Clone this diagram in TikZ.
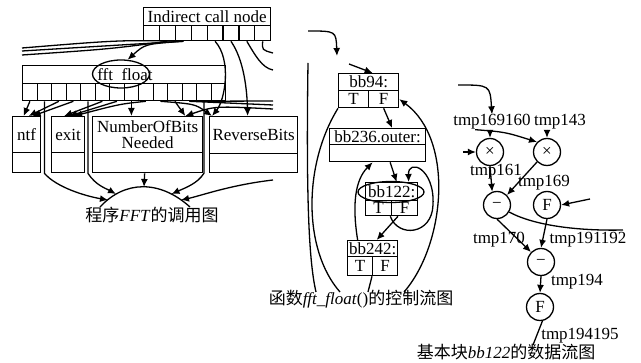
\documentclass[tikz,border=0pt]{standalone}
\usepackage{fontspec}
\setmainfont{Liberation Serif}
\newfontfamily\cjk{Noto Sans CJK SC}
\usetikzlibrary{arrows.meta,shapes.geometric,backgrounds}
\begin{document}
\begin{tikzpicture}[x=1pt,y=-1pt,font=\fontsize{17}{15}\selectfont,
  bx/.style={draw,line width=1.3pt,rectangle,inner sep=0pt,anchor=north west},
  wbx/.style={bx,fill=white},
  ln/.style={line width=1.3pt},
  ar/.style={ln,-{Latex[length=8pt,width=7pt]}},
  opc/.style={draw,circle,line width=1.3pt,minimum size=27pt,inner sep=0pt,fill=white},
  lbl/.style={inner sep=0pt},
  captxt/.style={inner sep=0pt}]
\useasboundingbox (0,0) rectangle (641,363);

% ---------------- call graph ----------------
\node[bx,minimum width=127pt,minimum height=18pt] (ind) at (143,7) {Indirect call node};
\foreach \i in {0,...,7}
  \node[bx,minimum width=15.875pt,minimum height=15pt] (ic\i) at ({143+\i*15.875},25) {};
\node[bx,minimum width=203pt,minimum height=18pt] (fft) at (22,65) {};
\foreach \i in {0,...,13}
  \node[bx,minimum width=14.5pt,minimum height=17pt] (fc\i) at ({22+\i*14.5},83) {};
\node[draw,ellipse,line width=1.3pt,minimum width=57pt,minimum height=28pt,inner sep=0pt] (fftE) at (121,74) {};
\node[lbl] (fftT) at (125,75) {fft\ \ float};

\node[bx,minimum width=28pt,minimum height=36pt] (ntf) at (12,116) {ntf};
\node[bx,minimum width=28pt,minimum height=20pt] (ntfb) at (12,152) {};
\node[bx,minimum width=33pt,minimum height=36pt] (ex) at (51,116) {exit};
\node[bx,minimum width=33pt,minimum height=20pt] (exb) at (51,152) {};
\node[bx,minimum width=110pt,minimum height=36pt,align=center,font=\fontsize{17}{16}\selectfont] (nob) at (92,116) {NumberOfBits\\Needed};
\node[bx,minimum width=110pt,minimum height=20pt] (nobb) at (92,152) {};
\node[bx,minimum width=88pt,minimum height=37pt] (rev) at (209,116) {ReverseBits};
\node[bx,minimum width=88pt,minimum height=19pt] (revb) at (209,153) {};

\node[captxt] (cap1) at (152,215) {{\cjk 程序}\textit{FFT}{\cjk 的调用图}};

% ---------------- control flow graph ----------------
\node[wbx,minimum width=60pt,minimum height=17pt] (bb94) at (338,73) {bb94:};
\node[wbx,minimum width=30pt,minimum height=17pt] (bb94T) at (338,90) {T};
\node[wbx,minimum width=30pt,minimum height=17pt] (bb94F) at (368,90) {F};
\node[wbx,minimum width=96pt,minimum height=16pt] (bb236) at (329,128) {bb236.outer:};
\node[wbx,minimum width=96pt,minimum height=17pt] (bb236b) at (329,144) {};
\node[wbx,minimum width=52pt,minimum height=18pt] (bb122) at (365,182) {bb122:};
\node[wbx,minimum width=26pt,minimum height=15pt] (bb122T) at (365,200) {T};
\node[wbx,minimum width=26pt,minimum height=15pt] (bb122F) at (391,200) {F};
\node[draw,ellipse,line width=1.3pt,minimum width=66pt,minimum height=21pt,inner sep=0pt] (bbE) at (391,192) {};
\node[wbx,minimum width=50pt,minimum height=16pt] (bb242) at (347,240) {bb242:};
\node[wbx,minimum width=25pt,minimum height=19pt] (bb242T) at (347,256) {T};
\node[wbx,minimum width=25pt,minimum height=19pt] (bb242F) at (372,256) {F};

\node[captxt] (cap2) at (361,299) {{\cjk 函数}\textit{fft\_float}(){\cjk 的控制流图}};

% ---------------- data flow graph ----------------
\node[lbl] (t169160) at (492,122) {tmp169160};
\node[lbl] (t143) at (560,122) {tmp143};
\node[opc] (x1) at (490,152) {×};
\node[opc] (x2) at (547,152) {×};
\node[lbl] (t161) at (496,172) {tmp161};
\node[lbl] (t169) at (544,183) {tmp169};
\node[opc] (m1) at (497,205) {−};
\node[opc] (f1) at (547,205) {F};
\node[lbl] (t170) at (499,240) {tmp170};
\node[lbl] (t191) at (588,240) {tmp191192};
\node[opc] (m2) at (541,262) {−};
\node[lbl] (t194) at (577,282) {tmp194};
\node[opc] (f2) at (540,307) {F};
\node[lbl] (t195) at (580,336) {tmp194195};

\node[captxt] (cap3) at (506,352) {{\cjk 基本块}\textit{bb122}{\cjk 的数据流图}};

\begin{pgfonlayer}{background}
% ----- call graph edges -----
\coordinate (L1) at (22,48); \coordinate (L2) at (22,51); \coordinate (L3) at (22,55);
\draw[ln] (ic2.south) .. controls (120,40) .. (L1);
\draw[ln] (ic2.south) .. controls (120,45) .. (L2);
\draw[ln] (ic1.south) .. controls (110,49) .. (L3);
\draw[ar] (ic2.south) .. controls (145,44) .. (fftE.65);
\draw[ar] (ic4.south) .. controls (232,60) and (225,100) .. ([xshift=3pt]rev.north west);
\draw[ar] (ic5.south) .. controls (244,60) and (247,90) .. ([xshift=-6pt]rev.north);
\coordinate (R1) at (273,70); \coordinate (R2) at (273,53);
\draw[ln] (ic6.south) .. controls (255,55) and (262,68) .. (R1);
\draw[ln] (ic7.south) .. controls (262,50) .. (R2);

\draw[ar] (fc0.south) -- ([xshift=-3pt]ntf.north);
\draw[ar] (fc2.south) -- ([xshift=2pt]ntf.north);
\draw[ar] (fc3.south) -- ([xshift=6pt]ntf.north);
\draw[ar] (fc5.south) -- ([xshift=-4pt]ex.north);
\draw[ar] (fc6.south) -- ([xshift=1pt]ex.north);
\draw[ar] (fc8.south) .. controls (120,104) .. ([xshift=6pt]ex.north);
\draw[ar] (fc7.south) -- (fc7.south |- nob.north);
\draw[ar] (fc9.south) .. controls (195,104) .. ([xshift=3pt]rev.north west);
\draw[ar] (fc10.south) -- ([xshift=-18pt]nob.north east);
\coordinate (R3) at (273,101); \coordinate (R4) at (273,105); \coordinate (R5) at (273,109);
\draw[ln] (R3) -- (fc11.south);
\draw[ln] (R4) -- (fc11.south);
\draw[ar] (R5) .. controls (215,106) .. ([xshift=-18pt]nob.north east);

\coordinate (A1) at (100,207); \coordinate (A2) at (190,207);
\draw[ln] (A1) .. controls (125,180) and (160,180) .. (A2);
\coordinate (T1) at (108,200); \coordinate (T2) at (116,194);
\coordinate (T3) at (144,187); \coordinate (T4) at (171.5,194); \coordinate (T5) at (181,200);
\draw[ar] (fc1.south) -- (fc1.south |- ntfb.south) .. controls +(12,14) and (85,196) .. (T1);
\draw[ar] (fc4.south) -- (fc4.south |- exb.south) .. controls +(8,12) and (105,188) .. (T2);
\draw[ar] ([xshift=-3pt]nobb.south) -- (T3);
\draw[ar] (fc12.south) -- (fc12.south |- revb.south) .. controls +(-6,10) and (185,188) .. (T4);
\coordinate (R6) at (273,180);
\draw[ar] (R6) .. controls (230,185) and (200,196) .. (T5);

% ----- control flow edges -----
\coordinate (M0) at (308,31); \coordinate (M1) at (337,56);
\draw[ar] (M0) .. controls (336,31) .. (M1);
\coordinate (M2) at (349,64);
\draw[ar] (M2) -- ([xshift=4pt]bb94.north);
\draw[ar] (bb94F.south) -- ([xshift=14.5pt]bb236.north);
\coordinate (M3) at (308,63); \coordinate (M4) at (316,292);
\draw[ln] (M3) .. controls (306,200) and (309,262) .. (M4);
\coordinate (M5) at (340,292);
\draw[ln] (bb94T.south west) .. controls (303,165) and (303,250) .. (M5);
\coordinate (M6) at (404,292);
\draw[ar] (M6) .. controls (445,245) and (455,140) .. (bb94F.east);
\draw[ar] ([xshift=12.5pt]bb236b.south) -- ([xshift=5pt]bb122.north);
\draw[ar] ([xshift=-2pt]bb122T.south east) .. controls (398,238) and (432,235) .. (433,205)
   .. controls (435,168) and (408,158) .. ([xshift=17pt]bb122.north);
\draw[ar] ([xshift=7pt]bb122F.south west) -- ([xshift=4pt]bb242.north);
\draw[ar] ([xshift=-15pt]bb242.north) .. controls (352,205) and (355,180) .. ([xshift=-5pt]bb236b.south);
\coordinate (M7) at (368,292);
\draw[ln] (bb242F.south west) -- (M7);

% ----- data flow edges -----
\coordinate (D0) at (458,85);
\draw[ar] (D0) .. controls (490,85) .. (t169160.north);
\draw[ar] (t169160.south -| x1) -- (x1.north);
\draw[ar] ([xshift=22pt]t169160.south west) .. controls (505,132) .. (x2.135);
\draw[ar] (t143.south -| x2) -- (x2.north);
\coordinate (D2) at (463,152);
\draw[ar] (D2) -- (x1.west);
\draw[ar] (x1.south) -- (m1.110);
\draw[ar] (x2.225) -- (m1.45);
\coordinate (D3) at (590,199);
\draw[ar] (D3) -- (f1.east);
\coordinate (D4) at (623,230);
\draw[ln] (m1.-30) .. controls (535,226) and (580,231) .. (D4);
\draw[ar] (m1.south) -- (m2.135);
\draw[ar] (f1.south) -- (m2.north);
\draw[ar] (m2.south) -- (f2.north);
\coordinate (D5) at (533,345);
\draw[ln] (f2.-80) -- (D5);
\end{pgfonlayer}
\end{tikzpicture}
\end{document}
